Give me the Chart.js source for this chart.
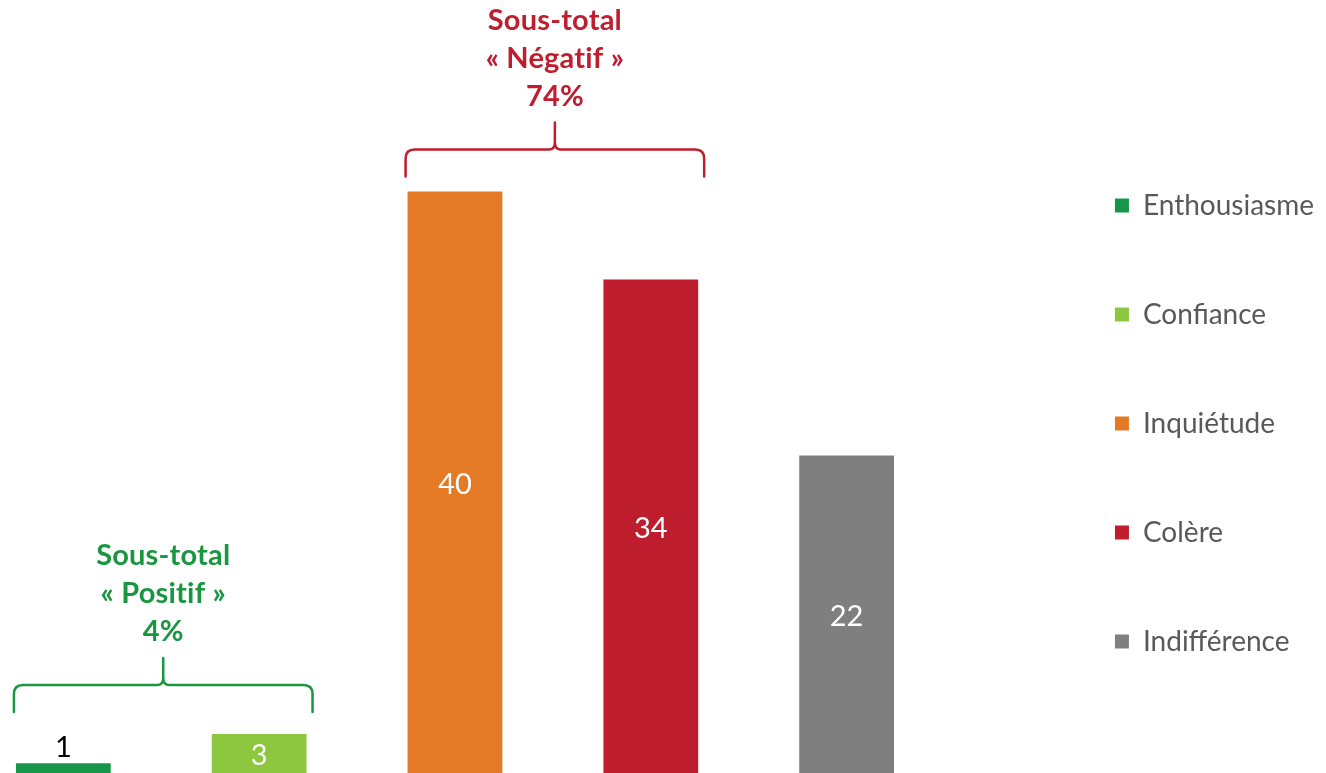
<!DOCTYPE html>
<html lang="fr">
<head>
<meta charset="utf-8">
<title>Émotions</title>
<script src="https://cdn.jsdelivr.net/npm/chart.js@4.4.1/dist/chart.umd.min.js"></script>
<style>
    html, body { margin: 0; padding: 0; background: #ffffff; overflow: hidden; }
    #wrap { width: 1326px; height: 778px; }
</style>
</head>
<body>
<div id="wrap"><canvas id="emotionsChart" width="1326" height="778"></canvas></div>
<script>
// Données du graphique
const categories = ['Enthousiasme', 'Confiance', 'Inquiétude', 'Colère', 'Indifférence'];
const valeurs = [1, 3, 40, 34, 22];
const couleurs = ['#17964a', '#8dc63f', '#e47a25', '#be1d2e', '#7f7f7f'];

// Sous-totaux (indices des séries regroupées)
const groupesTitres = [['Sous-total', '« Positif »', '4%'], ['Sous-total', '« Négatif »', '74%']];
const groupesSeries = [[0, 1], [2, 3]];
const groupesCouleurs = ['#1a9641', '#be1e2d'];
const groupesEcart = [22, 15];

const police = 'Lato, "DejaVu Sans", sans-serif';

// Étiquettes de valeurs sur les barres
const etiquettesPlugin = {
    id: 'etiquettes',
    afterDatasetsDraw(chart) {
        const ctx = chart.ctx;
        ctx.save();
        ctx.font = '29px ' + police;
        ctx.textAlign = 'center';
        chart.data.datasets.forEach(function(ds, i) {
            const bar = chart.getDatasetMeta(i).data[0];
            if (!bar) return;
            const haut = bar.base - bar.y;
            if (haut < 30) {
                ctx.fillStyle = '#000000';
                ctx.textBaseline = 'alphabetic';
                ctx.fillText(String(ds.data[0]), bar.x, bar.y - 6);
            } else {
                ctx.fillStyle = '#ffffff';
                ctx.textBaseline = 'middle';
                ctx.fillText(String(ds.data[0]), bar.x, (bar.y + bar.base) / 2);
            }
        });
        ctx.restore();
    }
};

// Accolades + sous-totaux
const accoladesPlugin = {
    id: 'accolades',
    afterDraw(chart) {
        const ctx = chart.ctx;
        groupesSeries.forEach(function(series, g) {
            const b0 = chart.getDatasetMeta(series[0]).data[0];
            const b1 = chart.getDatasetMeta(series[series.length - 1]).data[0];
            const gauche = b0.x - b0.width / 2 - 2;
            const droite = b1.x + b1.width / 2 + 6;
            const cx = (gauche + droite) / 2;
            let sommet = Infinity;
            series.forEach(function(s) {
                sommet = Math.min(sommet, chart.getDatasetMeta(s).data[0].y);
            });
            const yFin = sommet - groupesEcart[g];
            const yH = yFin - 27;
            const yPointe = yH - 27;
            const r = 9;

            ctx.save();
            ctx.strokeStyle = groupesCouleurs[g];
            ctx.lineWidth = 2.5;
            ctx.lineCap = 'round';
            ctx.lineJoin = 'round';
            ctx.beginPath();
            ctx.moveTo(gauche, yFin);
            ctx.lineTo(gauche, yH + r);
            ctx.quadraticCurveTo(gauche, yH, gauche + r, yH);
            ctx.lineTo(cx - 6, yH);
            ctx.quadraticCurveTo(cx, yH, cx, yH - 7);
            ctx.lineTo(cx, yPointe);
            ctx.moveTo(cx, yH - 7);
            ctx.quadraticCurveTo(cx, yH, cx + 6, yH);
            ctx.lineTo(droite - r, yH);
            ctx.quadraticCurveTo(droite, yH, droite, yH + r);
            ctx.lineTo(droite, yFin);
            ctx.stroke();

            ctx.fillStyle = groupesCouleurs[g];
            ctx.font = 'bold 29px ' + police;
            ctx.letterSpacing = '0.2px'; // pas de ligature « ti »
            ctx.textAlign = 'center';
            ctx.textBaseline = 'middle';
            const lignes = groupesTitres[g];
            lignes.forEach(function(t, k) {
                const y = yPointe - 26 - (lignes.length - 1 - k) * 38;
                ctx.fillText(t, cx, y);
            });
            ctx.restore();
        });
    }
};

document.addEventListener('DOMContentLoaded', function() {
    const ctx = document.getElementById('emotionsChart').getContext('2d');

    const datasets = categories.map(function(nom, i) {
        return {
            label: nom,
            data: [valeurs[i]],
            backgroundColor: couleurs[i],
            borderWidth: 0,
            categoryPercentage: 1.076,
            barPercentage: 0.484
        };
    });

    new Chart(ctx, {
        type: 'bar',
        data: {
            labels: [''],
            datasets: datasets
        },
        options: {
            responsive: false,
            animation: false,
            devicePixelRatio: 1,
            layout: { padding: { right: 2 } },
            plugins: {
                tooltip: { enabled: false },
                legend: {
                    position: 'right',
                    align: 'center',
                    title: {
                        display: true,
                        text: '',
                        padding: { top: 27, bottom: 27.6 }
                    },
                    labels: {
                        boxWidth: 14,
                        boxHeight: 14,
                        padding: 81,
                        color: '#595959',
                        font: { family: police, size: 28 }
                    }
                }
            },
            scales: {
                x: { display: false },
                y: {
                    display: false,
                    min: 0,
                    max: 53.06
                },
                yEcart: {
                    position: 'right',
                    display: true,
                    grid: { display: false },
                    border: { display: false },
                    ticks: { display: false },
                    afterFit: function(scale) { scale.width = 124; }
                }
            }
        },
        plugins: [etiquettesPlugin, accoladesPlugin]
    });
});
</script>
</body>
</html>
